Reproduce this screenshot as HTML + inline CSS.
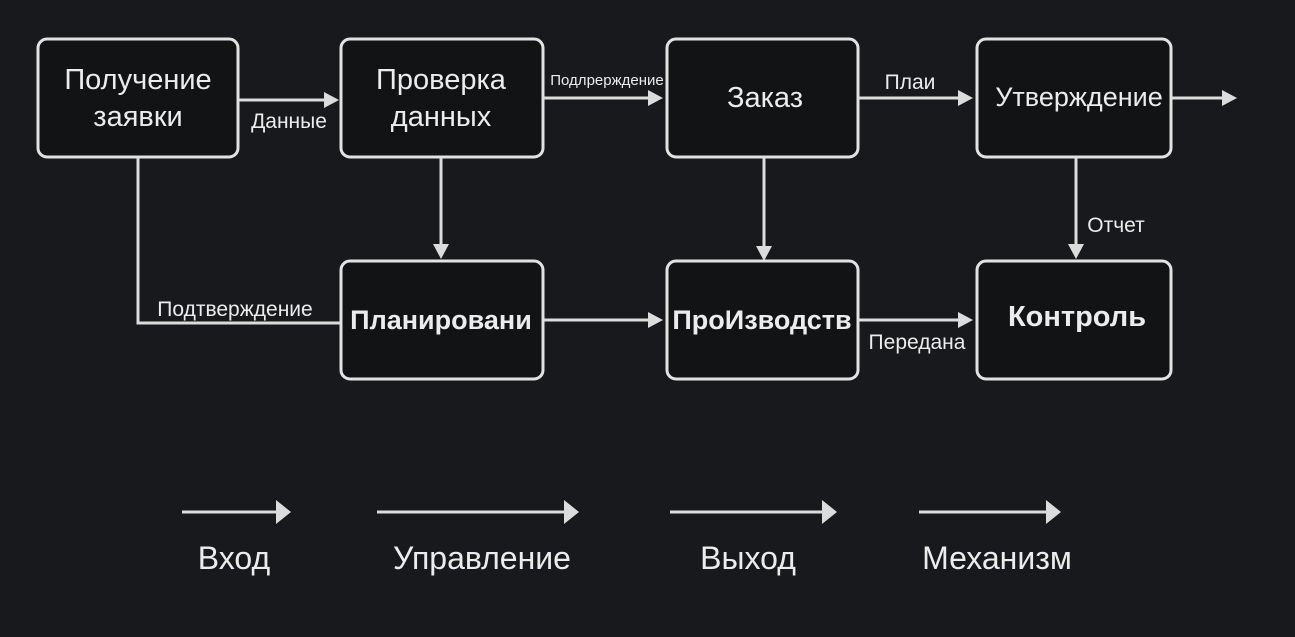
<!DOCTYPE html>
<html><head><meta charset="utf-8"><style>
html,body{margin:0;padding:0;background:#18191c;}
svg{display:block;}
text{font-family:"Liberation Sans","DejaVu Sans",sans-serif;fill:#ececec;}
</style></head><body>
<svg width="1295" height="637" viewBox="0 0 1295 637" xmlns="http://www.w3.org/2000/svg">
<rect width="1295" height="637" fill="#18191c"/>
<g fill="#121315" stroke="#e2e2e2" stroke-width="3">
<rect x="38" y="39" width="200" height="118" rx="9"/>
<rect x="341" y="39" width="202" height="118" rx="9"/>
<rect x="667" y="39" width="191" height="118" rx="9"/>
<rect x="977" y="39" width="194" height="118" rx="9"/>
<rect x="341" y="261" width="202" height="118" rx="9"/>
<rect x="667" y="261" width="191" height="118" rx="9"/>
<rect x="977" y="261" width="194" height="118" rx="9"/>
</g>
<g stroke="#dcdcdc" stroke-width="3" fill="none">
<line x1="238" y1="100" x2="326" y2="100"/>
<line x1="543" y1="98" x2="650" y2="98"/>
<line x1="858" y1="98" x2="960" y2="98"/>
<line x1="1171" y1="98" x2="1224" y2="98"/>
<line x1="441" y1="157" x2="441" y2="246"/>
<line x1="764" y1="157" x2="764" y2="248"/>
<line x1="1076" y1="157" x2="1076" y2="246"/>
<polyline points="138,157 138,323 341,323"/>
<line x1="543" y1="320" x2="650" y2="320"/>
<line x1="858" y1="320" x2="960" y2="320"/>
<line x1="182" y1="512" x2="278" y2="512"/>
<line x1="377" y1="512" x2="566" y2="512"/>
<line x1="670" y1="512" x2="824" y2="512"/>
<line x1="919" y1="512" x2="1048" y2="512"/>
</g>
<g fill="#dcdcdc">
<polygon points="324,92 339,100 324,108"/>
<polygon points="648,90 663,98 648,106"/>
<polygon points="958,90 973,98 958,106"/>
<polygon points="1222,90 1237,98 1222,106"/>
<polygon points="433,244 441,259 449,244"/>
<polygon points="756,246 764,261 772,246"/>
<polygon points="1068,244 1076,259 1084,244"/>
<polygon points="648,312 663,320 648,328"/>
<polygon points="958,312 973,320 958,328"/>
<polygon points="276,500 291,512 276,524"/>
<polygon points="564,500 579,512 564,524"/>
<polygon points="822,500 837,512 822,524"/>
<polygon points="1046,500 1061,512 1046,524"/>
</g>
<g font-size="29" text-anchor="middle">
<text x="138" y="89">Получение</text>
<text x="138" y="126">заявки</text>
<text x="441" y="89">Проверка</text>
<text x="441" y="126">данных</text>
<text x="765" y="107">Заказ</text>
<text x="1079" y="106" font-size="27">Утверждение</text>
<text x="441" y="329" font-weight="bold" font-size="27">Планировани</text>
<text x="762" y="329" font-weight="bold" font-size="27">ПроИзводств</text>
<text x="1077" y="326" font-weight="bold">Контроль</text>
</g>
<g font-size="21" text-anchor="middle">
<text x="289" y="128">Данные</text>
<text x="607" y="85" font-size="15">Подлрерждение</text>
<text x="910" y="89">Плаи</text>
<text x="1116" y="232">Отчет</text>
<text x="235" y="316">Подтверждение</text>
<text x="917" y="349">Передана</text>
</g>
<g font-size="32" text-anchor="middle" fill="#e4e4e4">
<text x="234" y="569">Вход</text>
<text x="482" y="569">Управление</text>
<text x="748" y="569">Выход</text>
<text x="997" y="569">Механизм</text>
</g>
</svg>
</body></html>
